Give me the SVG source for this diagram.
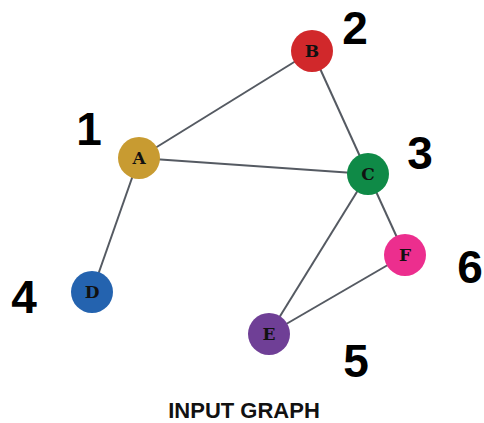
<svg xmlns="http://www.w3.org/2000/svg" width="484" height="423" viewBox="0 0 484 423">
<style>
.edge{stroke:#555a62;stroke-width:2;fill:none}
.node circle{stroke:none}
.nl{font-family:"DejaVu Serif","Liberation Mono",serif;font-weight:bold;font-size:17px;fill:#111;text-anchor:middle}
.num{font-family:"Liberation Sans",Arial,sans-serif;font-weight:bold;font-size:46px;fill:#000;text-anchor:middle}
.title{font-family:"Liberation Sans",Arial,sans-serif;font-weight:bold;font-size:22px;fill:#111;text-anchor:middle}
</style>
<rect width="484" height="423" fill="#ffffff"/>
<g id="edges">
<line class="edge" x1="139" y1="158" x2="312" y2="51"/>
<line class="edge" x1="139" y1="158" x2="368" y2="174"/>
<line class="edge" x1="139" y1="158" x2="92" y2="292"/>
<line class="edge" x1="312" y1="51" x2="368" y2="174"/>
<line class="edge" x1="368" y1="174" x2="269" y2="334"/>
<line class="edge" x1="368" y1="174" x2="405" y2="255"/>
<line class="edge" x1="269" y1="334" x2="405" y2="255"/>
</g>
<g id="A" class="node"><circle cx="139" cy="158" r="21" fill="#C89B31"/><text class="nl" x="139" y="164">A</text></g>
<g id="B" class="node"><circle cx="312" cy="51" r="21" fill="#D1282B"/><text class="nl" x="312" y="57">B</text></g>
<g id="C" class="node"><circle cx="368" cy="174" r="21" fill="#0F8A47"/><text class="nl" x="368" y="180">C</text></g>
<g id="D" class="node"><circle cx="92" cy="292" r="21" fill="#2463AF"/><text class="nl" x="92" y="298">D</text></g>
<g id="E" class="node"><circle cx="269" cy="334" r="21" fill="#6F3F96"/><text class="nl" x="269" y="340">E</text></g>
<g id="F" class="node"><circle cx="405" cy="255" r="21" fill="#EC2E8E"/><text class="nl" x="405" y="261">F</text></g>
<g id="labels">
<text class="num" x="89" y="145">1</text>
<text class="num" x="355" y="44">2</text>
<text class="num" x="420" y="169">3</text>
<text class="num" x="24" y="313">4</text>
<text class="num" x="356" y="377">5</text>
<text class="num" x="470" y="283">6</text>
<text class="title" x="244" y="418">INPUT GRAPH</text>
</g>
</svg>
